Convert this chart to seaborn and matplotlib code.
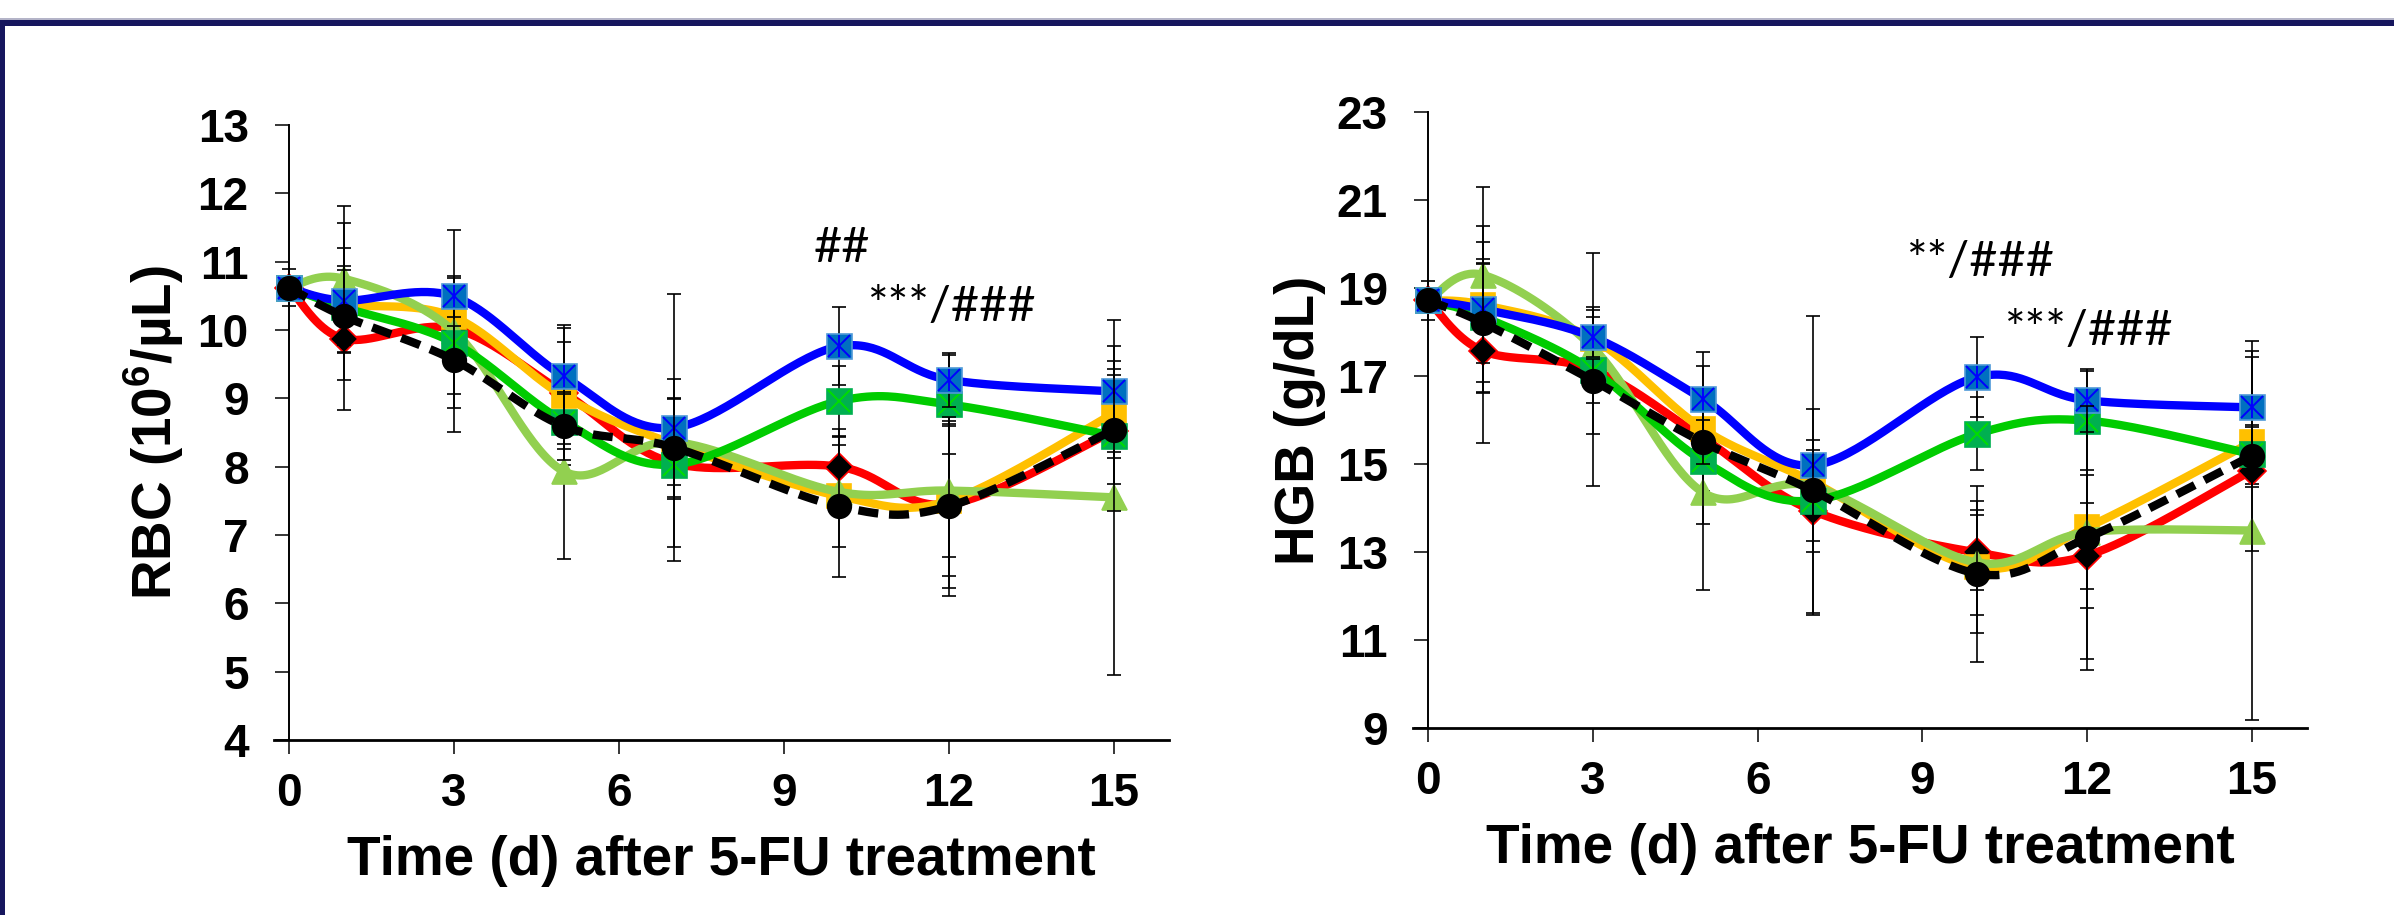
import numpy as np
import matplotlib
matplotlib.use("Agg")
import matplotlib.pyplot as plt
import seaborn as sns
from matplotlib.patches import Rectangle

sns.set_theme(style="white")
plt.rcParams['font.family'] = ['Liberation Sans', 'DejaVu Sans']
plt.rcParams['mathtext.fontset'] = 'custom'
plt.rcParams['mathtext.rm'] = 'Liberation Sans:bold'
plt.rcParams['mathtext.bf'] = 'Liberation Sans:bold'

################################################
# Data
################################################
days = [0, 1, 3, 5, 7, 10, 12, 15]

rbc_blue   = [10.62, 10.43, 10.49, 9.32, 8.57, 9.76, 9.27, 9.10]
rbc_green  = [10.62, 10.33, 9.81, 8.66, 8.03, 8.96, 8.91, 8.45]
rbc_orange = [10.62, 10.38, 10.19, 9.03, 8.33, 7.57, 7.50, 8.78]
rbc_red    = [10.62, 9.87, 10.02, 9.08, 8.05, 8.00, 7.45, 8.52]
rbc_lgreen = [10.62, 10.75, 9.98, 7.93, 8.36, 7.63, 7.65, 7.55]
rbc_black  = [10.62, 10.20, 9.56, 8.59, 8.28, 7.42, 7.42, 8.54]

rbc_blue_sd   = [0.10, 0.77, 0.30, 0.75, 1.95, 0.57, 0.40, 0.67]
rbc_green_sd  = [0.10, 0.55, 0.95, 0.40, 0.50, 0.52, 0.72, 1.10]
rbc_orange_sd = [0.10, 0.55, 0.35, 1.00, 0.30, 0.75, 1.10, 0.65]
rbc_red_sd    = [0.10, 0.60, 0.30, 0.75, 1.23, 0.55, 1.22, 0.30]
rbc_lgreen_sd = [0.27, 1.07, 1.48, 1.28, 0.63, 0.30, 0.97, 2.60]
rbc_black_sd  = [0.10, 1.37, 0.50, 0.50, 0.72, 1.03, 1.31, 0.80]

hgb_blue   = [18.72, 18.52, 17.89, 16.48, 14.97, 16.98, 16.45, 16.29]
hgb_green  = [18.72, 18.35, 17.13, 15.08, 14.17, 15.69, 15.99, 15.23]
hgb_orange = [18.72, 18.62, 17.85, 15.80, 14.60, 12.65, 13.56, 15.50]
hgb_red    = [18.72, 17.57, 17.15, 15.60, 13.94, 12.99, 12.92, 14.85]
hgb_lgreen = [18.72, 19.30, 17.65, 14.36, 14.50, 12.76, 13.45, 13.49]
hgb_black  = [18.72, 18.21, 16.90, 15.50, 14.40, 12.51, 13.32, 15.19]

hgb_blue_sd   = [0.10, 1.90, 0.45, 1.07, 3.40, 0.92, 0.72, 1.28]
hgb_green_sd  = [0.10, 1.70, 1.45, 1.44, 1.16, 0.83, 1.12, 2.20]
hgb_orange_sd = [0.10, 0.95, 0.65, 1.42, 0.60, 1.50, 3.00, 0.35]
hgb_red_sd    = [0.10, 2.10, 2.65, 0.40, 2.32, 0.85, 1.20, 0.30]
hgb_lgreen_sd = [0.45, 2.00, 0.50, 2.22, 0.50, 1.20, 1.30, 4.30]
hgb_black_sd  = [0.10, 1.35, 0.50, 0.50, 1.14, 2.00, 3.00, 0.70]

x_ticks = [0, 3, 6, 9, 12, 15]
rbc_ticks = [4, 5, 6, 7, 8, 9, 10, 11, 12, 13]
hgb_ticks = [9, 11, 13, 15, 17, 19, 21, 23]

rbc_notes = [("##", 10.05, 11.2), ("***/###", 12.05, 10.34)]
hgb_notes = [("**/###", 10.05, 19.59), ("***/###", 12.02, 18.02)]

################################################
# Styles (draw order = list order)
################################################
ORDER = ['red', 'orange', 'lgreen', 'green', 'blue', 'black']
STYLE = {
  'red':    dict(line='#FF0000', marker='D', mfc='black',   mec='#FF0000', ms=14, ls='-', lw=6),
  'orange': dict(line='#FFC000', marker='s', mfc='#FFC000', mec='#FFC000', ms=17, ls='-', lw=6),
  'lgreen': dict(line='#92D050', marker='^', mfc='#92D050', mec='#92D050', ms=18, ls='-', lw=6),
  'green':  dict(line='#00CC00', marker='s', mfc='#00B050', mec='#00B050', ms=18, ls='-', lw=6, cross='#00DD00'),
  'blue':   dict(line='#0000FF', marker='s', mfc='#0070C0', mec='#4F9AD8', ms=18, ls='-', lw=6, cross='#0000FF', bar=True),
  'black':  dict(line='black',   marker='o', mfc='black',   mec='black',   ms=17, ls=(0, (2.4, 1.3)), lw=6),
}


def smooth(xs, ys, n=40):
  # Excel-like smoothed line: cubic bezier through the points
  pts = np.column_stack([xs, ys]).astype(float)
  P = np.vstack([pts[0], pts, pts[-1]])
  t = np.linspace(0, 1, n)[:, None]
  out = []
  for i in range(len(pts) - 1):
    p0, p1, p2, p3 = P[i], P[i + 1], P[i + 2], P[i + 3]
    c1 = p1 + (p2 - p0) / 6
    c2 = p2 - (p3 - p1) / 6
    seg = (1 - t) ** 3 * p1 + 3 * (1 - t) ** 2 * t * c1 + 3 * (1 - t) * t ** 2 * c2 + t ** 3 * p2
    out.append(seg if i == 0 else seg[1:])
  out = np.vstack(out)
  return out[:, 0], out[:, 1]


def draw_panel(ax, means, sds, ylim, yticks, ylabel, notes):
  for i, name in enumerate(ORDER):
    st = STYLE[name]
    z = 3 + i
    y = means[name]
    ax.errorbar(days, y, yerr=sds[name], fmt='none', ecolor='black',
                elinewidth=1.2, capsize=5, capthick=1.2, zorder=z + 0.2)
    cx, cy = smooth(days, y)
    sns.lineplot(x=cx, y=cy, ax=ax, color=st['line'], lw=st['lw'], sort=False,
                 estimator=None, linestyle=st['ls'], zorder=z)
    ax.plot(days, y, linestyle='none', marker=st['marker'], ms=st['ms'],
            mfc=st['mfc'], mec=st['mec'], mew=1.2, zorder=z + 0.5)
    if 'cross' in st:
      ax.plot(days, y, linestyle='none', marker='x', ms=st['ms'] - 2,
              mec=st['cross'], mew=1.4, zorder=z + 0.6)
    if st.get('bar'):
      ax.plot(days, y, linestyle='none', marker='|', ms=st['ms'] - 2,
              mec=st['cross'], mew=1.4, zorder=z + 0.6)

  ax.set_xlim(-0.27, 16)
  ax.set_ylim(*ylim)
  ax.set_xticks(x_ticks)
  ax.set_yticks(yticks)
  ax.spines['left'].set_position(('data', 0))
  ax.spines['top'].set_visible(False)
  ax.spines['right'].set_visible(False)
  ax.spines['left'].set_color('black')
  ax.spines['bottom'].set_color('black')
  ax.spines['left'].set_linewidth(1.4)
  ax.spines['bottom'].set_linewidth(2.0)
  ax.tick_params(axis='both', direction='out', length=10, width=1.1, color='black',
                 labelsize=33, labelcolor='black')
  ax.tick_params(axis='y', pad=19, left=True)
  ax.tick_params(axis='x', pad=13, bottom=True)
  for lab in ax.get_xticklabels() + ax.get_yticklabels():
    lab.set_fontweight('bold')
  ax.set_xlabel("Time (d) after 5-FU treatment", fontsize=39.5, fontweight='bold',
                labelpad=14, color='black')
  ax.set_ylabel(ylabel, fontsize=39.5, fontweight='bold', labelpad=8, color='black')
  ax.set_facecolor('white')
  for txt, xx, yy in notes:
    ax.text(xx, yy, txt, ha='center', va='center', fontsize=35,
            family=['Lato', 'DejaVu Sans'], color='black', zorder=20)


fig = plt.figure(figsize=(23.94, 9.15), dpi=100)
fig.patch.set_facecolor('white')
axL = fig.add_axes([0.1145, 0.1913, 0.3738, 0.6721])
axR = fig.add_axes([0.5904, 0.2044, 0.3731, 0.6729])

rbc_means = dict(blue=rbc_blue, green=rbc_green, orange=rbc_orange,
                 red=rbc_red, lgreen=rbc_lgreen, black=rbc_black)
rbc_sds = dict(blue=rbc_blue_sd, green=rbc_green_sd, orange=rbc_orange_sd,
               red=rbc_red_sd, lgreen=rbc_lgreen_sd, black=rbc_black_sd)
hgb_means = dict(blue=hgb_blue, green=hgb_green, orange=hgb_orange,
                 red=hgb_red, lgreen=hgb_lgreen, black=hgb_black)
hgb_sds = dict(blue=hgb_blue_sd, green=hgb_green_sd, orange=hgb_orange_sd,
               red=hgb_red_sd, lgreen=hgb_lgreen_sd, black=hgb_black_sd)

draw_panel(axL, rbc_means, rbc_sds, (4, 13), rbc_ticks, r"RBC (10$^{6}$/µL)", rbc_notes)
draw_panel(axR, hgb_means, hgb_sds, (9, 23), hgb_ticks, "HGB (g/dL)", hgb_notes)

# navy frame (top and left edges)
H, W = 915.0, 2394.0
fig.add_artist(Rectangle((0, (H - 19.5) / H), 1, 1.5 / H, transform=fig.transFigure,
                         color='#b4b4c8', lw=0))
fig.add_artist(Rectangle((0, (H - 26) / H), 1, 6.5 / H, transform=fig.transFigure,
                         color='#16165e', lw=0))
fig.add_artist(Rectangle((0, 0), 5 / W, (H - 20) / H, transform=fig.transFigure,
                         color='#16165e', lw=0))

fig.savefig("out.png", dpi=100)
